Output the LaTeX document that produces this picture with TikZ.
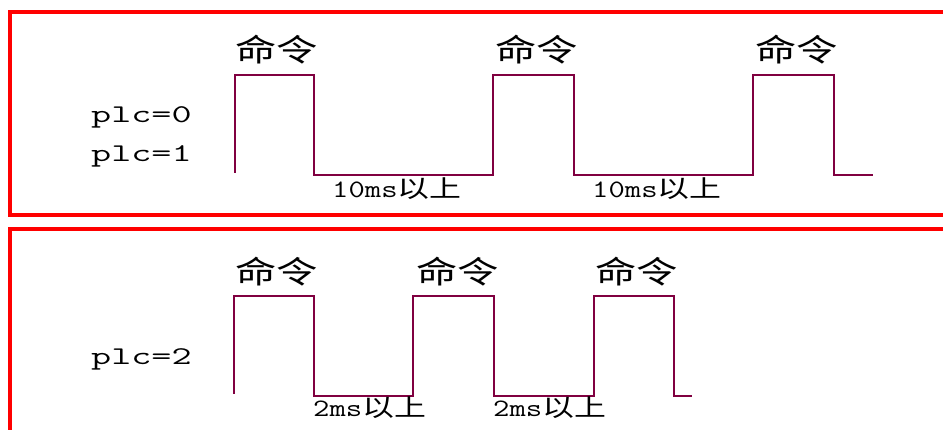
\documentclass[tikz,border=0pt]{standalone}
\usepackage{fontspec}
\setmainfont{Liberation Serif}
\newfontfamily\cjkf{Noto Sans CJK SC}
\newcommand{\monof}{\ttfamily}
\definecolor{sig}{RGB}{128,0,64}
\definecolor{frame}{RGB}{255,0,0}
\begin{document}
\begin{tikzpicture}[x=1pt,y=-1pt,
  sigline/.style={draw=sig,line width=2pt},
  framebox/.style={draw=frame,line width=4pt},
  cmdlabel/.style={anchor=base west,inner sep=0pt,font=\cjkf\fontsize{31}{31}\selectfont},
  plclabel/.style={anchor=base west,inner sep=0pt,font=\monof\fontsize{25.5}{25.5}\selectfont},
  gaplabel/.style={anchor=base west,inner sep=0pt}]
\useasboundingbox (0,0) rectangle (943,430);
\clip (0,0) rectangle (943,430);
\fill[white] (0,0) rectangle (943,430);
% frames
\draw[framebox] (9.5,12) rectangle (960,215.5);
\draw[framebox] (9.5,228.7) rectangle (960,460);
% top waveform
\coordinate (t0) at (235,173);
\draw[sigline] (t0) -- (235,75) -- (314,75) -- (314,175) -- (493,175) -- (493,75)
  -- (574,75) -- (574,175) -- (753,175) -- (753,75) -- (834,75) -- (834,175) -- (873,175);
% bottom waveform
\coordinate (b0) at (234,394);
\draw[sigline] (b0) -- (234,296) -- (314,296) -- (314,396) -- (413,396) -- (413,296)
  -- (494,296) -- (494,396) -- (594,396) -- (594,296) -- (674,296) -- (674,396) -- (692,396);
% labels top
\node[plclabel] (p0) at (91,123) {\scalebox{1.53}[1]{plc=0}};
\node[plclabel] (p1) at (91,162) {\scalebox{1.53}[1]{plc=1}};
\node[cmdlabel] (c1) at (235,61.5) {\scalebox{1.33}[1]{命令}};
\node[cmdlabel] (c2) at (495,61.5) {\scalebox{1.33}[1]{命令}};
\node[cmdlabel] (c3) at (755,61.5) {\scalebox{1.33}[1]{命令}};
\node[gaplabel] (g1) at (332,198) {{\monof\fontsize{25}{25}\selectfont\scalebox{1.27}[1]{10ms}}{\cjkf\fontsize{24}{24}\selectfont\scalebox{1.33}[1]{以上}}};
\node[gaplabel] (g2) at (592,198) {{\monof\fontsize{25}{25}\selectfont\scalebox{1.27}[1]{10ms}}{\cjkf\fontsize{24}{24}\selectfont\scalebox{1.33}[1]{以上}}};
% labels bottom
\node[plclabel] (p2) at (91,365) {\scalebox{1.53}[1]{plc=2}};
\node[cmdlabel] (c4) at (235,283.5) {\scalebox{1.33}[1]{命令}};
\node[cmdlabel] (c5) at (416,283.5) {\scalebox{1.33}[1]{命令}};
\node[cmdlabel] (c6) at (595,283.5) {\scalebox{1.33}[1]{命令}};
\node[gaplabel] (g3) at (313,417) {{\monof\fontsize{25}{25}\selectfont\scalebox{1.27}[1]{2ms}}{\cjkf\fontsize{24}{24}\selectfont\scalebox{1.33}[1]{以上}}};
\node[gaplabel] (g4) at (493,417) {{\monof\fontsize{25}{25}\selectfont\scalebox{1.27}[1]{2ms}}{\cjkf\fontsize{24}{24}\selectfont\scalebox{1.33}[1]{以上}}};
\end{tikzpicture}
\end{document}
